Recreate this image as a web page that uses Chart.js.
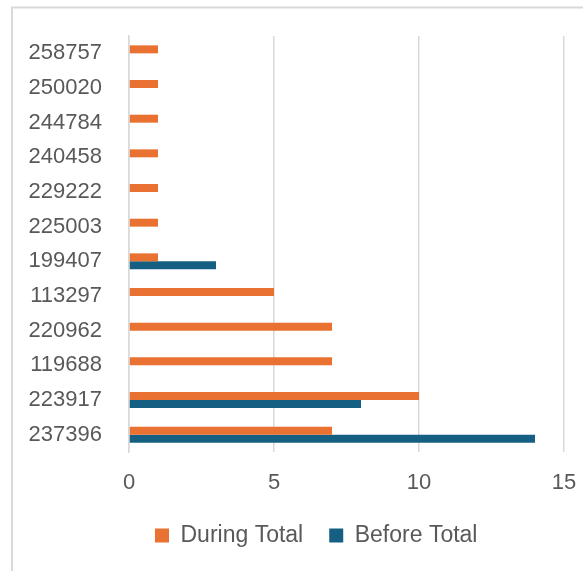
<!DOCTYPE html>
<html>
<head>
<meta charset="utf-8">
<script src="https://cdn.jsdelivr.net/npm/chart.js@4/dist/chart.umd.min.js"></script>
<style>
  html, body { margin: 0; padding: 0; background: #ffffff; }
  #wrap { width: 583px; height: 571px; position: relative; }
</style>
</head>
<body>
<div id="wrap"><canvas id="c" width="583" height="571"></canvas></div>
<script>
// Record IDs (top to bottom) and their totals
const categories = ['258757', '250020', '244784', '240458', '229222', '225003', '199407', '113297', '220962', '119688', '223917', '237396'];
const duringTotal = [1, 1, 1, 1, 1, 1, 1, 5, 7, 7, 10, 7];
const beforeTotal = [null, null, null, null, null, null, 3, null, null, null, 8, 14];
const xTicks = [0, 5, 10, 15];

const TEXT = '#595959';
const GRID = '#d9d9d9';
const FONT = "'Liberation Sans', Arial, sans-serif";

// Light frame along the left and top edges
const framePlugin = {
  id: 'frame',
  beforeDraw(chart) {
    const ctx = chart.ctx;
    ctx.save();
    ctx.strokeStyle = GRID;
    ctx.lineWidth = 2;
    ctx.beginPath();
    ctx.moveTo(12, 571);
    ctx.lineTo(12, 7.5);
    ctx.lineTo(583, 7.5);
    ctx.stroke();
    ctx.restore();
  }
};

new Chart(document.getElementById('c'), {
  type: 'bar',
  data: {
    labels: categories,
    datasets: [
      { label: 'During Total', data: duringTotal, backgroundColor: '#E97132', borderWidth: 0 },
      { label: 'Before Total', data: beforeTotal, backgroundColor: '#156082', borderWidth: 0 }
    ]
  },
  options: {
    indexAxis: 'y',
    responsive: false,
    animation: false,
    devicePixelRatio: 1,
    categoryPercentage: 0.46,
    barPercentage: 1.0,
    layout: { padding: { top: 36, right: 19, left: 20, bottom: 14 } },
    scales: {
      x: {
        min: 0,
        max: 15,
        afterBuildTicks(scale) { scale.ticks = xTicks.map(v => ({ value: v })); },
        afterFit(scale) {
          scale.height = 46;
          scale.paddingLeft = 0;
          scale.paddingRight = 0;
        },
        ticks: { color: TEXT, font: { family: FONT, size: 22 }, padding: 18 },
        grid: { color: GRID, lineWidth: 1.5, drawTicks: false },
        border: { display: false }
      },
      y: {
        afterFit(scale) {
          scale.width = 109;
          scale.paddingTop = 0;
          scale.paddingBottom = 0;
        },
        ticks: { color: TEXT, font: { family: FONT, size: 22 }, padding: 27 },
        grid: { display: false, drawTicks: false },
        border: { display: true, color: GRID, width: 1.5 }
      }
    },
    plugins: {
      legend: {
        position: 'bottom',
        fullSize: false,
        align: 'start',
        labels: {
          color: TEXT,
          font: { family: FONT, size: 23 },
          boxWidth: 14,
          boxHeight: 14,
          padding: 26
        }
      },
      tooltip: { enabled: false }
    }
  },
  plugins: [framePlugin]
});
</script>
</body>
</html>
